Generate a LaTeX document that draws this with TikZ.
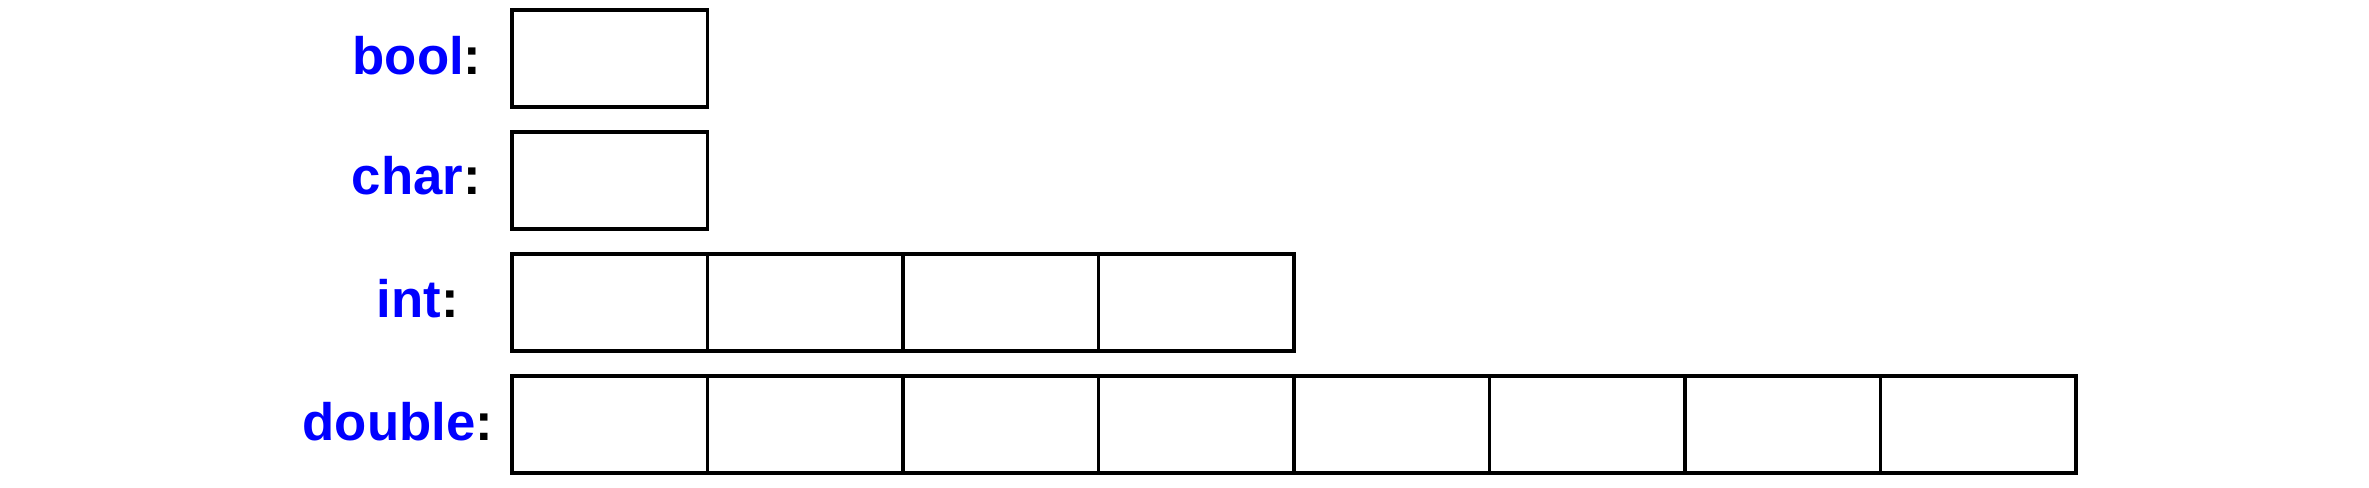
\documentclass[tikz,border=0pt]{standalone}
\usepackage{fontspec}
\setmainfont{Liberation Sans}
\usepackage{tikz}
\usetikzlibrary{positioning}
\definecolor{typeblue}{RGB}{0,0,255}
\tikzset{
    cellbox/.style={draw=black, line width=0.95pt, minimum width=19.55mm, minimum height=9.7mm, inner sep=0pt, outer sep=0pt, anchor=north west},
    typelabel/.style={font=\fontsize{15}{18}\selectfont\bfseries, anchor=base west, inner sep=0pt}
}

\begin{document}
\begin{tikzpicture}[x=0.1mm,y=-0.1mm]
    \useasboundingbox (0,0) rectangle (2369,488);
    % type names
    \node[typelabel] (lbool) at (352,75) {\textcolor{typeblue}{bool}:};
    \node[typelabel] (lchar) at (351,195) {\textcolor{typeblue}{char}:};
    \node[typelabel] (lint) at (376,318) {\textcolor{typeblue}{int}:};
    \node[typelabel] (ldouble) at (302,440) {\textcolor{typeblue}{double}:};
    % one cell per byte
    \foreach \i in {1} {\node[cellbox] (bool\i) at ({512+(\i-1)*195.5},10) {};}
    \foreach \i in {1} {\node[cellbox] (char\i) at ({512+(\i-1)*195.5},132) {};}
    \foreach \i in {1,...,4} {\node[cellbox] (int\i) at ({512+(\i-1)*195.5},254) {};}
    \foreach \i in {1,...,8} {\node[cellbox] (double\i) at ({512+(\i-1)*195.5},376) {};}
\end{tikzpicture}
\end{document}
